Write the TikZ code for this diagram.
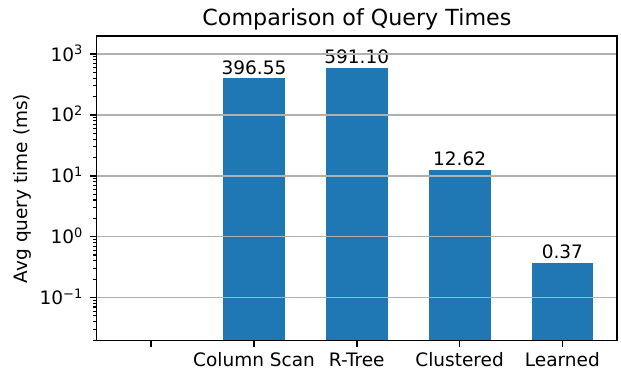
\documentclass[tikz,border=0pt]{standalone}
\usepackage{fontspec}
\setmainfont{DejaVu Sans}
\definecolor{barblue}{HTML}{1F77B4}
\definecolor{gridgray}{HTML}{B0B0B0}
\tikzset{
  bar/.style={fill=barblue},
  gridline/.style={gridgray,line width=1.45pt},
  spine/.style={line width=1.45pt,line cap=rect},
  majortick/.style={line width=1.45pt},
  minortick/.style={line width=1.1pt},
  lbl/.style={font=\fontsize{18.5}{22}\selectfont,inner sep=0pt},
}
\begin{document}
\begin{tikzpicture}[x=1pt,y=-1pt]
\useasboundingbox (0,0) rectangle (621,372);
% axes corners
\coordinate (ll) at (96.7,340.7);
\coordinate (ur) at (617,36);

% bars with value labels
\foreach \i/\v/\t/\nm in {1/396.55/Column Scan/colscan,2/591.10/R-Tree/rtree,3/12.62/Clustered/clustered,4/0.37/Learned/learned}{
  \pgfmathsetmacro\cx{151.2+102.8*\i}
  \pgfmathsetmacro\ty{236.7-60.9*log10(\v)}
  \fill[bar] (\cx-30.9,340.7) rectangle (\cx+30.9,\ty);
  \node[lbl,anchor=base] (val-\nm) at (\cx,\ty-4.3) {\v};
  \node[lbl,anchor=base] (lab-\nm) at (\cx,366.7) {\t};
}

% grid and y ticks
\foreach \k/\e in {-1/\textminus1,0/0,1/1,2/2,3/3}{
  \pgfmathsetmacro\gy{236.7-60.9*\k}
  \draw[gridline] (96.7,\gy) -- (617,\gy);
  \draw[majortick] (96.7,\gy) -- (90.3,\gy);
  \node[lbl,anchor=base east] (ytick\k) at (83,\gy+7) {10\textsuperscript{\e}};
}
\foreach \k in {-2,...,2}{
  \foreach \m in {2,...,9}{
    \pgfmathsetmacro\my{236.7-60.9*(\k+log10(\m))}
    \draw[minortick] (96.7,\my) -- (93,\my);
  }
}

% x ticks
\foreach \i in {0,...,4}
  \draw[majortick] (151.2+102.8*\i,340.7) -- (151.2+102.8*\i,347.1);

\draw[spine] (ll) rectangle (ur);

\node[lbl,rotate=90] (ylab) at (22,188.4) {Avg query time (ms)};
\node[font=\fontsize{22.2}{26}\selectfont,inner sep=0pt,anchor=base] (title) at (356.9,25) {Comparison of Query Times};
\end{tikzpicture}
\end{document}
